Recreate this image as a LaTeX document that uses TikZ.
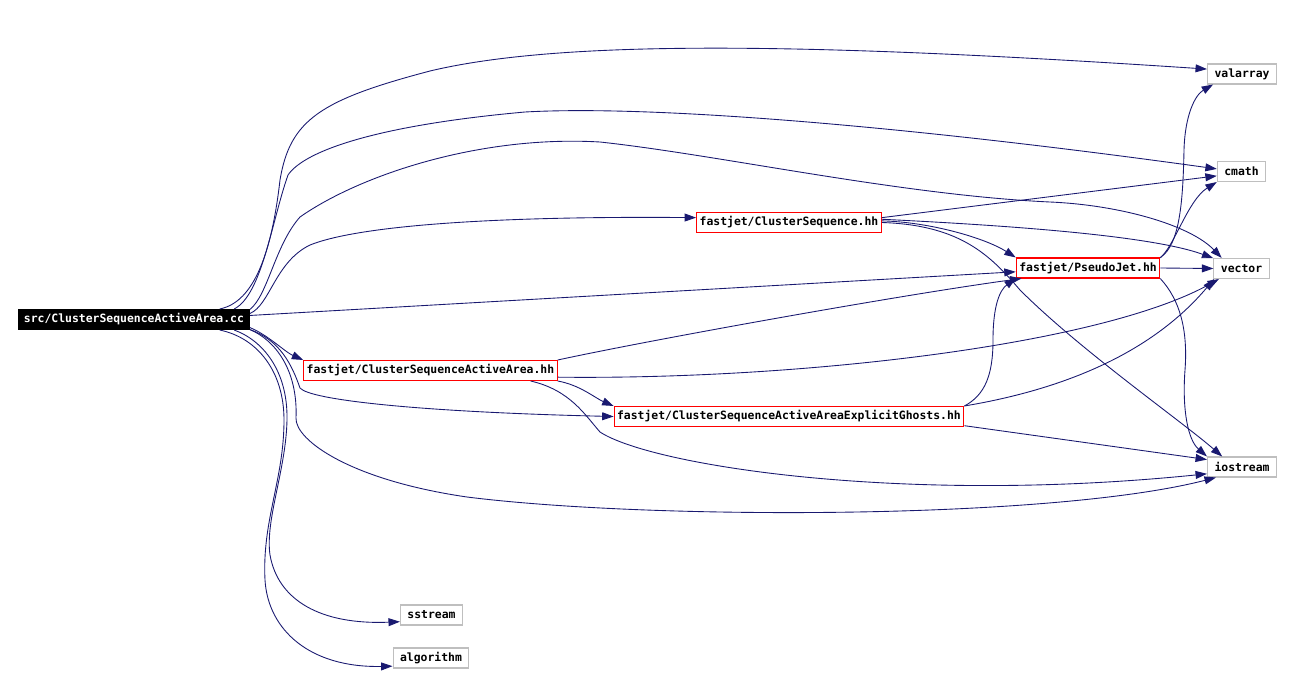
\documentclass[tikz,border=0pt]{standalone}
\usepackage{fontspec}
\setmonofont{DejaVu Sans Mono}
\usetikzlibrary{arrows.meta}
\definecolor{edgeblue}{HTML}{191970}
\definecolor{boxgray}{HTML}{BFBFBF}

\begin{document}
\begin{tikzpicture}[x=0.02cm, y=-0.02cm,
    every node/.style={font=\ttfamily\bfseries\fontsize{6.5}{8}\selectfont, minimum height=0.4cm, inner ysep=0pt, line width=0.6pt},
    srcbox/.style={draw=black, fill=black, text=white, inner xsep=0.11cm},
    hdrbox/.style={draw=red, fill=white, inner xsep=0.06cm},
    sysbox/.style={draw=boxgray, fill=white, inner xsep=0.14cm},
    dep/.style={draw=edgeblue, line width=0.5pt, -{Triangle[length=6.5pt, width=4.5pt]}}]

    \useasboundingbox (0,0) rectangle (1292,673);

    \node[srcbox] (main) at (134,319.5) {src/ClusterSequenceActiveArea.cc};
    \node[hdrbox] (cs) at (789,222.5) {fastjet/ClusterSequence.hh};
    \node[hdrbox] (pj) at (1088,268) {fastjet/PseudoJet.hh};
    \node[hdrbox] (csaa) at (430.5,370.5) {fastjet/ClusterSequenceActiveArea.hh};
    \node[hdrbox] (csaaeg) at (789,416.5) {fastjet/ClusterSequenceActiveAreaExplicitGhosts.hh};
    \node[sysbox] (valarray) at (1242,74) {valarray};
    \node[sysbox] (cmath) at (1241.5,171.5) {cmath};
    \node[sysbox] (vector) at (1241.5,268.5) {vector};
    \node[sysbox] (iostream) at (1242,467) {iostream};
    \node[sysbox] (sstream) at (431.5,615) {sstream};
    \node[sysbox] (algorithm) at (431,658) {algorithm};

    \draw[dep] (main.7) .. controls (255,302) and (272,250) .. (280,180)
        .. controls (290,120) and (320,100) .. (430,71)
        .. controls (560,40) and (800,42) .. (valarray.172);
    \draw[dep] (main.6.3) .. controls (262,295) and (272,220) .. (288,175)
        .. controls (305,150) and (380,125) .. (525,112)
        .. controls (650,105) and (900,125) .. (cmath.174);
    \draw[dep] (main.5.4) .. controls (268,295) and (275,245) .. (300,217)
        .. controls (360,175) and (480,135) .. (600,142)
        .. controls (720,155) and (900,195) .. (1050,202)
        .. controls (1120,205) and (1190,225) .. (vector.152);
    \draw[dep] (main.3.7) .. controls (270,305) and (275,262) .. (310,245)
        .. controls (360,225) and (500,216) .. (cs.177);
    \draw[dep] (main.2.7) -- (pj.183);
    \draw[dep] (main.-4.6) .. controls (268,335) and (285,352) .. (csaa.north west);
    \draw[dep] (main.-5) .. controls (280,340) and (292,365) .. (300,388)
        .. controls (310,400) and (420,412) .. (csaaeg.west);
    \draw[dep] (main.-5.6) .. controls (275,340) and (298,370) .. (296,418)
        .. controls (295,440) and (350,480) .. (467,497)
        .. controls (650,520) and (1050,520) .. (iostream.202);
    \draw[dep] (main.-6.5) .. controls (262,340) and (288,370) .. (287,420)
        .. controls (286,470) and (265,520) .. (270,555)
        .. controls (278,600) and (320,625) .. (sstream.192);
    \draw[dep] (main.-7) .. controls (258,338) and (284,372) .. (284,420)
        .. controls (284,480) and (262,520) .. (265,580)
        .. controls (268,630) and (310,668) .. (algorithm.192);

    \draw[dep] (cs.3) -- (cmath.190);
    \draw[dep] (cs.2) .. controls (1000,225) and (1150,235) .. (vector.160);
    \draw[dep] (cs.1) .. controls (930,222) and (985,238) .. (pj.north west);
    \draw[dep] (cs.east) .. controls (960,225) and (990,255) .. (1020,290)
        .. controls (1080,350) and (1180,420) .. (iostream.152);

    \draw[dep] (pj.east) -- (vector.west);
    \draw[dep] (pj.8.5) .. controls (1175,245) and (1188,200) .. (cmath.south west);
    \draw[dep] (pj.north east) .. controls (1180,245) and (1183,200) .. (1184,150)
        .. controls (1185,115) and (1195,95) .. (valarray.200);
    \draw[dep] (pj.south east) .. controls (1180,300) and (1188,330) .. (1185,370)
        .. controls (1182,410) and (1188,440) .. (iostream.north west);

    \draw[dep] (csaa.north east) .. controls (650,340) and (900,295) .. (pj.189.5);
    \draw[dep] (csaa.-3) .. controls (800,380) and (1100,345) .. (vector.205);
    \draw[dep] (csaa.south east) .. controls (580,385) and (595,398) .. (csaaeg.north west);
    \draw[dep] (csaa.-6) .. controls (570,390) and (585,415) .. (600,432)
        .. controls (650,465) and (900,505) .. (iostream.191);

    \draw[dep] (csaaeg.north east) .. controls (985,395) and (993,375) .. (993,340)
        .. controls (993,305) and (1000,290) .. (pj.188.5);
    \draw[dep] (csaaeg.north east) .. controls (1060,390) and (1150,355) .. (vector.201);
    \draw[dep] (csaaeg.-3.5) -- (iostream.168);

\end{tikzpicture}
\end{document}
